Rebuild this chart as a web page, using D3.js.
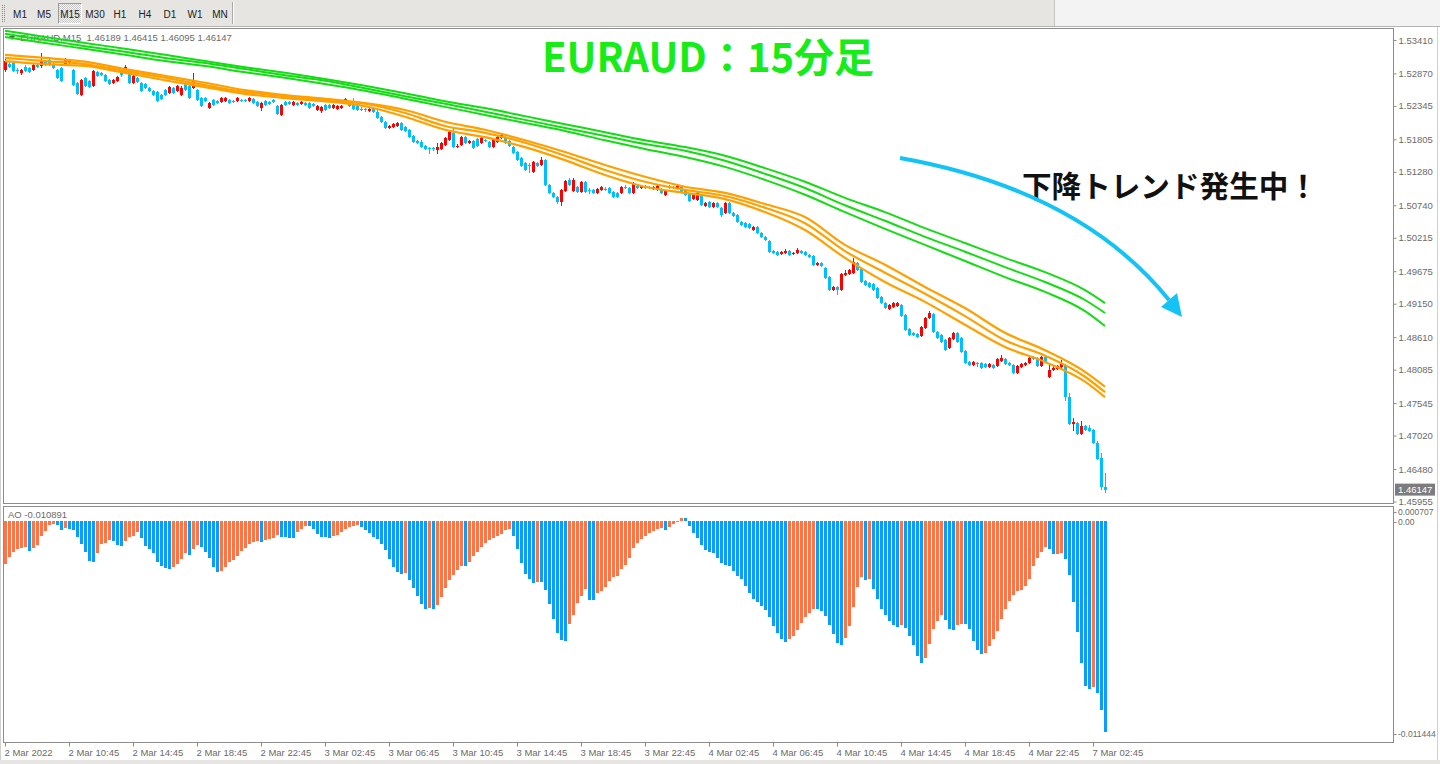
<!DOCTYPE html>
<html><head><meta charset="utf-8">
<script src="https://cdn.jsdelivr.net/npm/d3@7"></script>
<style>
html,body{margin:0;padding:0;background:#fff;overflow:hidden;}
svg{display:block;}
</style></head>
<body><svg id="c" width="1440" height="764"></svg>
<script>
// ---------------- DATA ----------------
const symbol = "EURAUD", timeframe = "M15";
const titleText = "EURAUD：15分足";
const noteText = "下降トレンド発生中！";
const timeframes = ["M1","M5","M15","M30","H1","H4","D1","W1","MN"];
const timeLabels = ["2 Mar 2022","2 Mar 10:45","2 Mar 14:45","2 Mar 18:45","2 Mar 22:45","3 Mar 02:45","3 Mar 06:45","3 Mar 10:45","3 Mar 14:45","3 Mar 18:45","3 Mar 22:45","4 Mar 02:45","4 Mar 06:45","4 Mar 10:45","4 Mar 14:45","4 Mar 18:45","4 Mar 22:45","7 Mar 02:45"];
const priceTicks = [1.53410,1.52870,1.52345,1.51805,1.51280,1.50740,1.50215,1.49675,1.49150,1.48610,1.48085,1.47545,1.47020,1.46480,1.45955];
const aoTicks = [0.000707, 0.00, -0.011444];

const opens = [
1.5293,1.5302,1.5304,1.5293,1.5288,1.5297,1.5296,1.5293,1.5301,1.5299,
1.5307,1.5309,1.5302,1.5293,1.5296,1.5301,1.5304,1.5293,1.5272,1.5252,
1.5280,1.5275,1.5267,1.5289,1.5288,1.5284,1.5276,1.5272,1.5275,1.5291,
1.5288,1.5291,1.5272,1.5280,1.5272,1.5270,1.5263,1.5259,1.5257,1.5252,
1.5260,1.5255,1.5263,1.5259,1.5252,1.5272,1.5267,1.5263,1.5260,1.5247,
1.5247,1.5231,1.5244,1.5242,1.5241,1.5242,1.5244,1.5242,1.5242,1.5244,
1.5244,1.5242,1.5246,1.5241,1.5231,1.5242,1.5241,1.5244,1.5234,1.5220,
1.5241,1.5241,1.5236,1.5239,1.5238,1.5239,1.5239,1.5238,1.5228,1.5226,
1.5236,1.5236,1.5231,1.5230,1.5231,1.5239,1.5239,1.5236,1.5234,1.5230,
1.5230,1.5226,1.5230,1.5225,1.5217,1.5209,1.5199,1.5200,1.5202,1.5207,
1.5200,1.5196,1.5186,1.5178,1.5176,1.5170,1.5167,1.5167,1.5163,1.5165,
1.5171,1.5179,1.5191,1.5168,1.5171,1.5184,1.5175,1.5178,1.5181,1.5175,
1.5179,1.5176,1.5168,1.5176,1.5183,1.5184,1.5178,1.5168,1.5160,1.5150,
1.5142,1.5139,1.5128,1.5142,1.5139,1.5147,1.5107,1.5094,1.5087,1.5079,
1.5097,1.5115,1.5097,1.5104,1.5095,1.5112,1.5099,1.5099,1.5094,1.5099,
1.5100,1.5102,1.5095,1.5094,1.5094,1.5104,1.5102,1.5094,1.5105,1.5102,
1.5105,1.5104,1.5100,1.5099,1.5100,1.5091,1.5105,1.5104,1.5102,1.5104,
1.5099,1.5092,1.5084,1.5083,1.5091,1.5073,1.5079,1.5071,1.5078,1.5070,
1.5062,1.5078,1.5062,1.5058,1.5047,1.5045,1.5044,1.5034,1.5039,1.5029,
1.5023,1.5016,1.5000,1.4999,1.4995,1.4997,1.5000,1.4995,1.4997,1.5000,
1.4999,1.4994,1.4992,1.4978,1.4981,1.4973,1.4958,1.4937,1.4942,1.4937,
1.4961,1.4963,1.4965,1.4981,1.4971,1.4952,1.4948,1.4947,1.4940,1.4926,
1.4916,1.4906,1.4910,1.4911,1.4913,1.4897,1.4874,1.4868,1.4866,1.4863,
1.4876,1.4892,1.4898,1.4869,1.4864,1.4856,1.4843,1.4858,1.4868,1.4860,
1.4839,1.4821,1.4816,1.4819,1.4819,1.4818,1.4813,1.4816,1.4814,1.4822,
1.4826,1.4819,1.4816,1.4803,1.4813,1.4816,1.4819,1.4829,1.4827,1.4814,
1.4829,1.4797,1.4808,1.4810,1.4813,1.4816,1.4764,1.4721,1.4722,1.4705,
1.4717,1.4714,1.4711,1.4690,1.4666,1.46189];
const highs = [
1.5314,1.5306,1.5306,1.5296,1.5294,1.5301,1.5297,1.5304,1.5304,1.5320,
1.5309,1.5310,1.5304,1.5294,1.5297,1.5312,1.5309,1.5294,1.5273,1.5278,
1.5281,1.5276,1.5293,1.5291,1.5289,1.5286,1.5278,1.5278,1.5283,1.5293,
1.5301,1.5293,1.5284,1.5281,1.5273,1.5272,1.5265,1.5260,1.5259,1.5254,
1.5262,1.5267,1.5265,1.5268,1.5267,1.5273,1.5268,1.5288,1.5262,1.5249,
1.5249,1.5241,1.5246,1.5244,1.5249,1.5249,1.5246,1.5244,1.5249,1.5246,
1.5246,1.5249,1.5247,1.5242,1.5241,1.5244,1.5242,1.5246,1.5236,1.5238,
1.5242,1.5242,1.5242,1.5241,1.5242,1.5241,1.5241,1.5239,1.5236,1.5234,
1.5238,1.5238,1.5238,1.5236,1.5236,1.5247,1.5241,1.5247,1.5236,1.5233,
1.5231,1.5233,1.5231,1.5228,1.5218,1.5210,1.5204,1.5207,1.5209,1.5209,
1.5202,1.5197,1.5188,1.5179,1.5179,1.5171,1.5168,1.5168,1.5175,1.5176,
1.5184,1.5194,1.5199,1.5173,1.5186,1.5186,1.5179,1.5179,1.5183,1.5184,
1.5181,1.5178,1.5181,1.5186,1.5191,1.5186,1.5179,1.5170,1.5162,1.5152,
1.5144,1.5142,1.5146,1.5144,1.5152,1.5149,1.5108,1.5095,1.5089,1.5100,
1.5115,1.5118,1.5118,1.5105,1.5113,1.5113,1.5102,1.5100,1.5102,1.5105,
1.5104,1.5104,1.5097,1.5095,1.5105,1.5107,1.5104,1.5112,1.5107,1.5107,
1.5107,1.5105,1.5105,1.5107,1.5102,1.5099,1.5107,1.5105,1.5107,1.5105,
1.5100,1.5094,1.5092,1.5095,1.5092,1.5079,1.5081,1.5079,1.5079,1.5071,
1.5079,1.5079,1.5063,1.5060,1.5049,1.5047,1.5045,1.5041,1.5041,1.5031,
1.5024,1.5018,1.5002,1.5000,1.5000,1.5003,1.5002,1.4999,1.5005,1.5002,
1.5000,1.4995,1.4994,1.4982,1.4982,1.4974,1.4960,1.4944,1.4944,1.4965,
1.4969,1.4971,1.4989,1.4982,1.4973,1.4953,1.4950,1.4948,1.4942,1.4927,
1.4918,1.4915,1.4918,1.4918,1.4915,1.4898,1.4876,1.4869,1.4868,1.4879,
1.4894,1.4903,1.4900,1.4871,1.4866,1.4858,1.4861,1.4869,1.4869,1.4861,
1.4840,1.4822,1.4822,1.4821,1.4821,1.4819,1.4819,1.4818,1.4827,1.4832,
1.4827,1.4821,1.4818,1.4816,1.4819,1.4821,1.4832,1.4831,1.4829,1.4831,
1.4831,1.4818,1.4814,1.4816,1.4824,1.4818,1.4771,1.4730,1.4724,1.4726,
1.4719,1.4719,1.4713,1.4693,1.4674,1.46415];
const lows = [
1.5289,1.5296,1.5289,1.5286,1.5284,1.5289,1.5288,1.5291,1.5296,1.5296,
1.5299,1.5299,1.5294,1.5278,1.5273,1.5299,1.5302,1.5267,1.5252,1.5250,
1.5265,1.5263,1.5265,1.5281,1.5283,1.5273,1.5268,1.5270,1.5273,1.5281,
1.5286,1.5270,1.5270,1.5272,1.5257,1.5262,1.5257,1.5250,1.5241,1.5244,
1.5250,1.5254,1.5254,1.5257,1.5250,1.5259,1.5246,1.5262,1.5242,1.5233,
1.5241,1.5230,1.5234,1.5238,1.5239,1.5241,1.5238,1.5239,1.5241,1.5241,
1.5241,1.5241,1.5238,1.5233,1.5226,1.5234,1.5236,1.5239,1.5220,1.5218,
1.5234,1.5236,1.5234,1.5234,1.5236,1.5234,1.5230,1.5233,1.5226,1.5223,
1.5226,1.5230,1.5230,1.5228,1.5230,1.5238,1.5233,1.5228,1.5226,1.5226,
1.5225,1.5225,1.5223,1.5213,1.5207,1.5197,1.5197,1.5199,1.5200,1.5194,
1.5192,1.5183,1.5175,1.5173,1.5167,1.5163,1.5157,1.5162,1.5157,1.5163,
1.5170,1.5178,1.5167,1.5167,1.5170,1.5173,1.5173,1.5165,1.5168,1.5173,
1.5176,1.5167,1.5167,1.5175,1.5181,1.5173,1.5168,1.5157,1.5146,1.5136,
1.5129,1.5126,1.5126,1.5136,1.5137,1.5105,1.5092,1.5086,1.5076,1.5073,
1.5095,1.5105,1.5095,1.5094,1.5094,1.5094,1.5092,1.5092,1.5092,1.5097,
1.5097,1.5092,1.5086,1.5086,1.5092,1.5100,1.5092,1.5092,1.5100,1.5100,
1.5100,1.5100,1.5099,1.5097,1.5092,1.5089,1.5100,1.5100,1.5100,1.5094,
1.5089,1.5079,1.5083,1.5081,1.5073,1.5071,1.5070,1.5070,1.5070,1.5055,
1.5060,1.5060,1.5055,1.5045,1.5041,1.5037,1.5036,1.5032,1.5028,1.5021,
1.5016,1.4997,1.4995,1.4992,1.4994,1.4995,1.4992,1.4994,1.4995,1.4995,
1.4992,1.4989,1.4976,1.4976,1.4974,1.4955,1.4936,1.4936,1.4929,1.4936,
1.4960,1.4961,1.4963,1.4968,1.4948,1.4944,1.4940,1.4936,1.4923,1.4915,
1.4906,1.4905,1.4908,1.4910,1.4894,1.4871,1.4863,1.4863,1.4860,1.4861,
1.4874,1.4890,1.4868,1.4858,1.4852,1.4839,1.4842,1.4856,1.4852,1.4835,
1.4818,1.4814,1.4814,1.4813,1.4810,1.4811,1.4811,1.4810,1.4813,1.4821,
1.4816,1.4814,1.4801,1.4801,1.4811,1.4814,1.4818,1.4824,1.4813,1.4813,
1.4819,1.4795,1.4806,1.4808,1.4811,1.4758,1.4719,1.4709,1.4703,1.4703,
1.4709,1.4708,1.4688,1.4663,1.4614,1.46095];
const closes = [
1.5307,1.5297,1.5291,1.5291,1.5293,1.5291,1.5289,1.5301,1.5297,1.5307,
1.5301,1.5301,1.5296,1.5280,1.5275,1.5309,1.5307,1.5268,1.5254,1.5276,
1.5267,1.5265,1.5291,1.5283,1.5284,1.5275,1.5270,1.5276,1.5281,1.5284,
1.5297,1.5272,1.5283,1.5273,1.5259,1.5263,1.5259,1.5252,1.5242,1.5246,
1.5252,1.5265,1.5255,1.5267,1.5263,1.5260,1.5247,1.5275,1.5244,1.5234,
1.5242,1.5239,1.5236,1.5239,1.5247,1.5247,1.5239,1.5241,1.5247,1.5242,
1.5242,1.5247,1.5239,1.5234,1.5239,1.5236,1.5238,1.5241,1.5221,1.5236,
1.5236,1.5238,1.5241,1.5236,1.5241,1.5236,1.5231,1.5234,1.5234,1.5233,
1.5228,1.5231,1.5236,1.5234,1.5234,1.5246,1.5234,1.5230,1.5228,1.5228,
1.5228,1.5230,1.5225,1.5215,1.5209,1.5199,1.5202,1.5205,1.5207,1.5196,
1.5194,1.5184,1.5176,1.5175,1.5168,1.5165,1.5165,1.5165,1.5168,1.5175,
1.5183,1.5192,1.5168,1.5170,1.5184,1.5175,1.5178,1.5167,1.5170,1.5183,
1.5178,1.5168,1.5179,1.5184,1.5188,1.5175,1.5170,1.5158,1.5147,1.5137,
1.5131,1.5137,1.5144,1.5137,1.5147,1.5107,1.5094,1.5087,1.5079,1.5099,
1.5113,1.5107,1.5115,1.5095,1.5112,1.5095,1.5097,1.5094,1.5100,1.5104,
1.5099,1.5094,1.5087,1.5087,1.5104,1.5102,1.5094,1.5110,1.5102,1.5105,
1.5102,1.5102,1.5104,1.5105,1.5094,1.5097,1.5102,1.5102,1.5105,1.5095,
1.5091,1.5081,1.5091,1.5094,1.5074,1.5078,1.5071,1.5078,1.5071,1.5058,
1.5078,1.5062,1.5057,1.5047,1.5042,1.5039,1.5037,1.5039,1.5029,1.5023,
1.5018,1.4999,1.4997,1.4994,1.4999,1.5000,1.4994,1.4997,1.5002,1.4997,
1.4994,1.4991,1.4978,1.4981,1.4976,1.4957,1.4937,1.4942,1.4937,1.4963,
1.4965,1.4969,1.4982,1.4969,1.4950,1.4945,1.4942,1.4937,1.4924,1.4916,
1.4908,1.4913,1.4916,1.4916,1.4895,1.4873,1.4864,1.4864,1.4861,1.4877,
1.4892,1.4900,1.4869,1.4860,1.4853,1.4840,1.4860,1.4868,1.4853,1.4837,
1.4819,1.4816,1.4821,1.4818,1.4811,1.4813,1.4818,1.4811,1.4826,1.4827,
1.4818,1.4816,1.4803,1.4814,1.4818,1.4819,1.4827,1.4826,1.4814,1.4829,
1.4821,1.4808,1.4811,1.4814,1.4818,1.4764,1.4721,1.4724,1.4705,1.4717,
1.4711,1.4709,1.4690,1.4664,1.4619,1.46147];

// moving averages, read at every 10th bar (and the last bar)
const maIndex = [0,10,20,30,40,50,60,70,80,90,100,110,120,130,140,150,160,170,180,190,200,210,220,230,240,250,260,270,275];
const greenMA1 = [1.5356,1.5346,1.5336,1.5327,1.5317,1.5307,1.5297,1.5288,1.5278,1.5267,1.5255,1.5242,1.5231,1.5218,1.5205,1.5192,1.5179,1.5168,1.5154,1.5134,1.5112,1.5086,1.5063,1.5037,1.5013,1.4989,1.4966,1.4937,1.4916];
const greenMA2 = [1.5351,1.5341,1.5331,1.5322,1.5312,1.5304,1.5294,1.5284,1.5275,1.5263,1.5250,1.5238,1.5225,1.5212,1.5199,1.5186,1.5173,1.5162,1.5146,1.5125,1.5102,1.5074,1.5049,1.5023,1.4999,1.4974,1.4950,1.4921,1.4900];
const greenMA3 = [1.5346,1.5336,1.5327,1.5317,1.5307,1.5299,1.5289,1.5280,1.5270,1.5259,1.5246,1.5233,1.5220,1.5207,1.5194,1.5179,1.5165,1.5152,1.5136,1.5115,1.5091,1.5063,1.5036,1.5010,1.4984,1.4958,1.4934,1.4903,1.4879];
const orangeMA1 = [1.5317,1.5312,1.5306,1.5294,1.5283,1.5272,1.5260,1.5252,1.5246,1.5239,1.5228,1.5209,1.5196,1.5179,1.5160,1.5139,1.5120,1.5104,1.5094,1.5076,1.5055,1.5010,1.4978,1.4942,1.4908,1.4868,1.4840,1.4805,1.4781];
const orangeMA2 = [1.5312,1.5307,1.5302,1.5291,1.5280,1.5268,1.5257,1.5250,1.5244,1.5238,1.5223,1.5202,1.5191,1.5175,1.5154,1.5131,1.5112,1.5099,1.5089,1.5070,1.5045,1.5000,1.4965,1.4931,1.4895,1.4856,1.4831,1.4797,1.4772];
const orangeMA3 = [1.5307,1.5302,1.5299,1.5288,1.5276,1.5265,1.5254,1.5247,1.5242,1.5234,1.5217,1.5196,1.5184,1.5168,1.5147,1.5123,1.5104,1.5094,1.5084,1.5063,1.5034,1.4989,1.4950,1.4918,1.4881,1.4845,1.4821,1.4789,1.4764];

// Awesome Oscillator, one value per bar
const ao = [
-0.00221,-0.00185,-0.00160,-0.00144,-0.00139,-0.00134,-0.00154,-0.00139,-0.00124,-0.00077,
-0.00051,-0.00021,-0.00015,-0.00021,-0.00046,-0.00036,-0.00041,-0.00046,-0.00082,-0.00118,
-0.00160,-0.00206,-0.00211,-0.00165,-0.00118,-0.00113,-0.00098,-0.00103,-0.00124,-0.00129,
-0.00103,-0.00082,-0.00077,-0.00057,-0.00088,-0.00129,-0.00144,-0.00165,-0.00211,-0.00232,
-0.00242,-0.00247,-0.00237,-0.00221,-0.00196,-0.00165,-0.00175,-0.00144,-0.00124,-0.00134,
-0.00160,-0.00191,-0.00237,-0.00263,-0.00257,-0.00237,-0.00211,-0.00201,-0.00180,-0.00154,
-0.00139,-0.00118,-0.00108,-0.00103,-0.00108,-0.00098,-0.00093,-0.00088,-0.00072,-0.00082,
-0.00085,-0.00088,-0.00090,-0.00057,-0.00041,-0.00026,-0.00028,-0.00041,-0.00067,-0.00082,
-0.00085,-0.00088,-0.00077,-0.00072,-0.00057,-0.00041,-0.00031,-0.00026,-0.00023,-0.00031,
-0.00046,-0.00062,-0.00082,-0.00093,-0.00118,-0.00149,-0.00196,-0.00237,-0.00263,-0.00273,
-0.00270,-0.00304,-0.00345,-0.00386,-0.00427,-0.00453,-0.00451,-0.00454,-0.00433,-0.00391,
-0.00345,-0.00304,-0.00278,-0.00252,-0.00232,-0.00234,-0.00211,-0.00180,-0.00160,-0.00134,
-0.00113,-0.00098,-0.00088,-0.00077,-0.00067,-0.00046,-0.00044,-0.00077,-0.00144,-0.00216,
-0.00273,-0.00299,-0.00319,-0.00314,-0.00317,-0.00355,-0.00427,-0.00505,-0.00577,-0.00613,
-0.00618,-0.00530,-0.00484,-0.00422,-0.00386,-0.00350,-0.00407,-0.00409,-0.00371,-0.00360,
-0.00340,-0.00309,-0.00288,-0.00283,-0.00247,-0.00227,-0.00191,-0.00139,-0.00113,-0.00093,
-0.00077,-0.00062,-0.00051,-0.00041,-0.00036,-0.00046,-0.00031,-0.00015,-0.00005,0.00013,
0.00012,-0.00026,-0.00062,-0.00088,-0.00125,-0.00149,-0.00160,-0.00165,-0.00190,-0.00216,
-0.00228,-0.00232,-0.00257,-0.00283,-0.00299,-0.00335,-0.00371,-0.00402,-0.00417,-0.00438,
-0.00458,-0.00494,-0.00541,-0.00577,-0.00608,-0.00623,-0.00608,-0.00592,-0.00561,-0.00525,
-0.00494,-0.00474,-0.00453,-0.00454,-0.00463,-0.00489,-0.00535,-0.00582,-0.00628,-0.00638,
-0.00602,-0.00541,-0.00443,-0.00340,-0.00288,-0.00304,-0.00299,-0.00350,-0.00402,-0.00453,
-0.00484,-0.00515,-0.00535,-0.00546,-0.00535,-0.00551,-0.00592,-0.00638,-0.00695,-0.00731,
-0.00705,-0.00633,-0.00556,-0.00515,-0.00484,-0.00510,-0.00556,-0.00561,-0.00535,-0.00530,
-0.00531,-0.00556,-0.00618,-0.00664,-0.00685,-0.00680,-0.00644,-0.00608,-0.00566,-0.00505,
-0.00453,-0.00412,-0.00381,-0.00360,-0.00355,-0.00335,-0.00299,-0.00232,-0.00190,-0.00160,
-0.00134,-0.00144,-0.00170,-0.00169,-0.00165,-0.00196,-0.00278,-0.00417,-0.00572,-0.00731,
-0.00850,-0.00865,-0.00855,-0.00886,-0.00973,-0.010891];

// ---------------- STYLE ----------------
const C = {
  bull: "#ff0000", bear: "#00bfff",
  green: "#14dc14", orange: "#ffa000",
  aoUp: "#ff7446", aoDown: "#0c9cff",
  frame: "#8c8c8c", text: "#6a6a6a",
  toolbar: "#e6e5e1"
};
const FONT = "'Liberation Sans', Arial, sans-serif";

// ---------------- SCALES ----------------
const N = closes.length;
const main = {left: 3, right: 1393, top: 28, bottom: 503};
const sub = {top: 506, bottom: 742};
const x = d3.scaleLinear().domain([0, N - 1]).range([5, 5 + 4 * (N - 1)]);
const y = d3.scaleLinear().domain([1.45955, 1.53410]).range([501.5, 40]);
const yAO = d3.scaleLinear().domain([-0.011444, 0.000707]).range([743, 507]);

const svg = d3.select("#c");
const defs = svg.append("defs");
defs.append("clipPath").attr("id", "clipMain").append("rect")
  .attr("x", main.left + 1).attr("y", main.top + 1)
  .attr("width", main.right - main.left - 1).attr("height", main.bottom - main.top - 1);
defs.append("clipPath").attr("id", "clipSub").append("rect")
  .attr("x", main.left + 1).attr("y", sub.top + 1)
  .attr("width", main.right - main.left - 1).attr("height", sub.bottom - sub.top - 1);
const pat = defs.append("pattern").attr("id", "dots").attr("width", 2).attr("height", 2).attr("patternUnits", "userSpaceOnUse");
pat.append("rect").attr("width", 2).attr("height", 2).attr("fill", "#f4f4f4");
pat.append("rect").attr("width", 1).attr("height", 1).attr("fill", "#c8c8c8");
pat.append("rect").attr("x", 1).attr("y", 1).attr("width", 1).attr("height", 1).attr("fill", "#c8c8c8");

// background
svg.append("rect").attr("width", 1440).attr("height", 764).attr("fill", "#ffffff");

// ---------------- TOOLBAR ----------------
svg.append("rect").attr("x", 0).attr("y", 0).attr("width", 1440).attr("height", 26).attr("fill", "#f3f3f3");
svg.append("rect").attr("x", 0).attr("y", 0).attr("width", 1054).attr("height", 26).attr("fill", C.toolbar);
svg.append("line").attr("x1", 1054.5).attr("x2", 1054.5).attr("y1", 0).attr("y2", 26).attr("stroke", "#c4c3bf");
svg.append("line").attr("x1", 0).attr("x2", 1440).attr("y1", 26.5).attr("y2", 26.5).attr("stroke", "#b5b4b0");
// grip
for (let gy = 5; gy < 22; gy += 2) {
  svg.append("rect").attr("x", 2).attr("y", gy).attr("width", 1).attr("height", 1).attr("fill", "#8a8a8a");
  svg.append("rect").attr("x", 4).attr("y", gy).attr("width", 1).attr("height", 1).attr("fill", "#8a8a8a");
}
const tfX = [20, 44, 70, 95, 120, 145, 170, 195, 220];
timeframes.forEach((t, j) => {
  if (t === timeframe) {
    svg.append("rect").attr("x", 58.5).attr("y", 3.5).attr("width", 23).attr("height", 20)
      .attr("fill", "url(#dots)").attr("stroke", "#9a9a9a");
    svg.append("path").attr("d", "M81.5,3.5 V23.5 H58.5").attr("fill", "none").attr("stroke", "#ffffff");
  }
  svg.append("text").attr("x", tfX[j]).attr("y", 17.5).attr("text-anchor", "middle")
    .attr("font-family", FONT).attr("font-size", 10).attr("fill", "#222").text(t);
});
svg.append("line").attr("x1", 232.5).attr("x2", 232.5).attr("y1", 2).attr("y2", 24).attr("stroke", "#a8a8a8");
svg.append("line").attr("x1", 233.5).attr("x2", 233.5).attr("y1", 2).attr("y2", 24).attr("stroke", "#ffffff");

// ---------------- FRAMES ----------------
const fr = svg.append("g").attr("fill", "none").attr("stroke", C.frame).attr("shape-rendering", "crispEdges");
fr.append("rect").attr("x", main.left + 0.5).attr("y", main.top + 0.5)
  .attr("width", main.right - main.left).attr("height", main.bottom - main.top);
fr.append("rect").attr("x", main.left + 0.5).attr("y", sub.top + 0.5)
  .attr("width", main.right - main.left).attr("height", sub.bottom - sub.top);
svg.append("line").attr("x1", 1437.5).attr("x2", 1437.5).attr("y1", 27).attr("y2", 764).attr("stroke", "#d0d0d0");
svg.append("line").attr("x1", 0.5).attr("x2", 0.5).attr("y1", 27).attr("y2", 764).attr("stroke", "#d0d0d0");
svg.append("rect").attr("x", 0).attr("y", 760).attr("width", 1440).attr("height", 4).attr("fill", "#e6e5e1");

// ---------------- HEADER TEXT ----------------
const last = N - 1;
svg.append("path").attr("d", "M9,36 L15,36 L12,40 Z").attr("fill", "#555");
svg.append("text").attr("x", 20).attr("y", 41).attr("font-family", FONT).attr("font-size", 9.5)
  .attr("fill", C.text).attr("xml:space", "preserve")
  .text(`${symbol},${timeframe}  ${opens[last].toFixed(5)} ${highs[last].toFixed(5)} ${lows[last].toFixed(5)} ${closes[last].toFixed(5)}`);
svg.append("text").attr("x", 8).attr("y", 518).attr("font-family", FONT).attr("font-size", 9.5)
  .attr("fill", C.text).text(`AO ${ao[last].toFixed(6)}`);

// ---------------- CANDLES ----------------
const bars = d3.range(N).map(i => ({i, o: opens[i], h: highs[i], l: lows[i], c: closes[i]}));
const gMain = svg.append("g").attr("clip-path", "url(#clipMain)");
const gc = gMain.append("g").attr("shape-rendering", "crispEdges");
gc.selectAll("line.wick").data(bars).join("line").attr("class", "wick")
  .attr("x1", d => Math.round(x(d.i)) + 0.5).attr("x2", d => Math.round(x(d.i)) + 0.5)
  .attr("y1", d => y(d.h)).attr("y2", d => y(d.l))
  .attr("stroke", d => d.c >= d.o ? C.bull : C.bear);
gc.selectAll("rect.body").data(bars).join("rect").attr("class", "body")
  .attr("x", d => Math.round(x(d.i)) - 1).attr("width", 3)
  .attr("y", d => Math.min(y(d.o), y(d.c)))
  .attr("height", d => Math.max(1, Math.abs(y(d.o) - y(d.c))))
  .attr("fill", d => d.c >= d.o ? C.bull : C.bear);

// ---------------- MOVING AVERAGES ----------------
const maLine = d3.line().x((d, j) => x(maIndex[j])).y(d => y(d)).curve(d3.curveMonotoneX);
[greenMA1, greenMA2, greenMA3].forEach(s => gMain.append("path").attr("d", maLine(s))
  .attr("fill", "none").attr("stroke", C.green).attr("stroke-width", 2));
[orangeMA1, orangeMA2, orangeMA3].forEach(s => gMain.append("path").attr("d", maLine(s))
  .attr("fill", "none").attr("stroke", C.orange).attr("stroke-width", 2.2));

// ---------------- PRICE AXIS ----------------
const ay = svg.append("g").attr("transform", `translate(${main.right + 0.5},0)`)
  .call(d3.axisRight(y).tickValues(priceTicks).tickSize(3).tickPadding(2).tickFormat(d3.format(".5f")));
ay.select(".domain").remove();
ay.selectAll("line").attr("stroke", C.frame);
ay.selectAll("text").attr("font-family", FONT).attr("font-size", 9.5).attr("fill", C.text);
// current price box
const cp = closes[last];
svg.append("rect").attr("x", 1395).attr("y", y(cp) - 6).attr("width", 40).attr("height", 12).attr("fill", "#7c7c7c");
svg.append("text").attr("x", 1398).attr("y", y(cp) + 3.5).attr("font-family", FONT).attr("font-size", 9.5)
  .attr("fill", "#ffffff").text(cp.toFixed(5));

// ---------------- AO ----------------
const gSub = svg.append("g").attr("clip-path", "url(#clipSub)").attr("shape-rendering", "crispEdges");
gSub.selectAll("rect").data(ao).join("rect")
  .attr("x", (d, i) => Math.round(x(i)) - 1).attr("width", 3)
  .attr("y", d => Math.min(yAO(d), yAO(0)))
  .attr("height", d => Math.max(1, Math.abs(yAO(d) - yAO(0))))
  .attr("fill", (d, i) => (i === 0 || d >= ao[i - 1]) ? C.aoUp : C.aoDown);
const aoLabelY = v => v === 0 ? yAO(v) + 1 : Math.min(Math.max(yAO(v), sub.top + 6), sub.bottom - 8);
const aoAx = svg.append("g");
aoTicks.forEach(v => {
  aoAx.append("line").attr("x1", main.right + 0.5).attr("x2", main.right + 3.5)
    .attr("y1", Math.round(aoLabelY(v)) + 0.5).attr("y2", Math.round(aoLabelY(v)) + 0.5).attr("stroke", C.frame);
  aoAx.append("text").attr("x", 1398).attr("y", aoLabelY(v) + 3).attr("font-family", FONT)
    .attr("font-size", 8.5).attr("fill", C.text)
    .text(v === 0 ? "0.00" : v.toFixed(6));
});

// ---------------- TIME AXIS ----------------
const tickIdx = timeLabels.map((t, j) => j * 16);
const ax = svg.append("g").attr("transform", `translate(0,${sub.bottom + 0.5})`)
  .call(d3.axisBottom(x).tickValues(tickIdx).tickSize(4).tickPadding(3).tickFormat((d, j) => timeLabels[j]));
ax.select(".domain").remove();
ax.selectAll("line").attr("stroke", C.frame);
ax.selectAll("text").attr("text-anchor", "start").attr("x", -1)
  .attr("font-family", FONT).attr("font-size", 9.5).attr("fill", C.text);

// ---------------- ANNOTATIONS ----------------
svg.append("text").attr("x", 708).attr("y", 72).attr("text-anchor", "middle")
  .attr("font-family", "'Noto Sans CJK JP', sans-serif").attr("font-weight", 700)
  .attr("font-size", 40).attr("fill", "#16ec16").text(titleText);
svg.append("text").attr("x", 1022).attr("y", 197)
  .attr("font-family", "'Noto Sans CJK JP', sans-serif").attr("font-weight", 700)
  .attr("font-size", 29.6).attr("fill", "#111").text(noteText);
const p = d3.path();
p.moveTo(900, 158);
p.quadraticCurveTo(1080, 190, 1169, 300);
svg.append("path").attr("d", p.toString()).attr("fill", "none").attr("stroke", "#14c3f5").attr("stroke-width", 4);
svg.append("path").attr("d", "M1182,317 L1161,307 L1177,293 Z").attr("fill", "#14c3f5");
</script>
</body></html>
